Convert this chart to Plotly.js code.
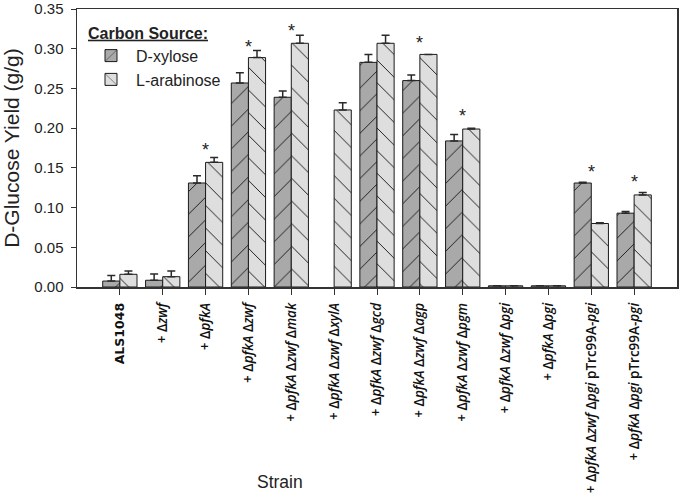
<!DOCTYPE html>
<html>
<head>
<meta charset="utf-8">
<script src="https://cdn.plot.ly/plotly-3.0.1.min.js"></script>
<style>html,body{margin:0;padding:0;background:#fff;}#chart{width:680px;height:501px;}</style>
</head>
<body>
<div id="chart"></div>
<script>
// Category keys and displayed tick labels
var categories = ["ALS1048","zwf","pfkA","pfkA zwf","pfkA zwf mak","pfkA zwf xylA","pfkA zwf gcd","pfkA zwf agp","pfkA zwf pgm","pfkA zwf pgi","pfkA pgi","pfkA zwf pgi pTrc99A-pgi","pfkA pgi pTrc99A-pgi"];
var tickLabels = [
  "<span style=\"font-family:'DejaVu Sans';font-size:12.5px\"><b>ALS1048</b></span>",
  "+ Δ<i>zwf</i>",
  "+ Δ<i>pfkA</i>",
  "+ Δ<i>pfkA</i> Δ<i>zwf</i>",
  "+ Δ<i>pfkA</i> Δ<i>zwf</i> Δ<i>mak</i>",
  "+ Δ<i>pfkA</i> Δ<i>zwf</i> Δ<i>xylA</i>",
  "+ Δ<i>pfkA</i> Δ<i>zwf</i> Δ<i>gcd</i>",
  "+ Δ<i>pfkA</i> Δ<i>zwf</i> Δ<i>agp</i>",
  "+ Δ<i>pfkA</i> Δ<i>zwf</i> Δ<i>pgm</i>",
  "+ Δ<i>pfkA</i> Δ<i>zwf</i> Δ<i>pgi</i>",
  "+ Δ<i>pfkA</i> Δ<i>pgi</i>",
  "+ Δ<i>pfkA</i> Δ<i>zwf</i> Δ<i>pgi</i> pTrc99A-<i>pgi</i>",
  "+ Δ<i>pfkA</i> Δ<i>pgi</i> pTrc99A-<i>pgi</i>"
];
// D-xylose yields and upper error
var xyloseYield = [0.0075, 0.0085, 0.131, 0.257, 0.239, null, 0.283, 0.260, 0.184, 0.0015, 0.0015, 0.131, 0.093];
var xyloseErr   = [0.007, 0.008, 0.009, 0.013, 0.008, 0, 0.010, 0.007, 0.008, 0, 0, 0.001, 0.002];
// L-arabinose yields and upper error
var arabinoseYield = [0.016, 0.013, 0.157, 0.289, 0.307, 0.223, 0.307, 0.293, 0.199, 0.0015, 0.0015, 0.080, 0.116];
var arabinoseErr   = [0.004, 0.007, 0.006, 0.009, 0.010, 0.009, 0.010, 0.0, 0.001, 0, 0, 0.001, 0.003];
// Significance asterisks (y position of the star, null = none)
var starY = [null, null, 0.177, 0.308, 0.328, null, null, 0.313, 0.220, null, null, 0.150, 0.137];
var zeros = categories.map(function(){return 0;});

var traces = [
  {
    type: 'bar', name: 'D-xylose', x: categories, y: xyloseYield,
    marker: {color: '#a9a9a9', line: {color: '#1a1a1a', width: 1},
      pattern: {shape: '/', fgcolor: '#1a1a1a', bgcolor: '#a9a9a9', size: 16, solidity: 0.06, fillmode: 'replace'}},
    error_y: {type: 'data', symmetric: false, array: xyloseErr, arrayminus: zeros, color: '#2a2a2a', thickness: 1.5, width: 4},
    hoverinfo: 'skip'
  },
  {
    type: 'bar', name: 'L-arabinose', x: categories, y: arabinoseYield,
    marker: {color: '#dedede', line: {color: '#1a1a1a', width: 1},
      pattern: {shape: '\\', fgcolor: '#1a1a1a', bgcolor: '#dedede', size: 16, solidity: 0.06, fillmode: 'replace'}},
    error_y: {type: 'data', symmetric: false, array: arabinoseErr, arrayminus: zeros, color: '#2a2a2a', thickness: 1.5, width: 4},
    hoverinfo: 'skip'
  }
];

var annotations = [];
categories.forEach(function(c, i){
  if (starY[i] !== null) {
    annotations.push({x: c, y: starY[i], xref: 'x', yref: 'y', text: '*', showarrow: false,
      font: {family: 'Arial, Liberation Sans, sans-serif', size: 18, color: '#222'}, yanchor: 'middle', yshift: -4});
  }
});
annotations.push({x: 0.338, y: -0.70, xref: 'paper', yref: 'paper', text: 'Strain', showarrow: false,
  font: {family: 'Arial, Liberation Sans, sans-serif', size: 17.5, color: '#222'}, xanchor: 'center', yanchor: 'middle'});

var layout = {
  width: 680, height: 501,
  margin: {l: 77, r: 3, t: 9, b: 214},
  paper_bgcolor: '#ffffff', plot_bgcolor: '#ffffff',
  barmode: 'group', bargap: 0.2, bargroupgap: 0,
  showlegend: true,
  legend: {
    x: 0.015, y: 0.968, xanchor: 'left', yanchor: 'top', bgcolor: 'rgba(0,0,0,0)',
    font: {family: 'Arial, Liberation Sans, sans-serif', size: 16, color: '#222'},
    title: {text: '<b><u>Carbon Source:</u></b>', font: {family: 'Arial, Liberation Sans, sans-serif', size: 16, color: '#222'}},
    itemwidth: 40, tracegroupgap: 0
  },
  xaxis: {
    type: 'category', range: [-1, 13],
    tickvals: categories, ticktext: tickLabels, tickangle: -90,
    tickfont: {family: 'Open Sans, Noto Sans, sans-serif', size: 13.5, color: '#111', weight: 600},
    ticks: 'outside', ticklen: 6, tickcolor: '#333', tickwidth: 1, ticklabelstandoff: 3,
    showline: true, linecolor: '#333', linewidth: 1.5, mirror: true,
    showgrid: false, zeroline: false
  },
  yaxis: {
    range: [0, 0.3502], tickvals: [0, 0.05, 0.1, 0.15, 0.2, 0.25, 0.3, 0.35], tickformat: '.2f',
    tickfont: {family: 'Arial, Liberation Sans, sans-serif', size: 15, color: '#222'},
    ticks: 'outside', ticklen: 5, tickcolor: '#333', ticklabelstandoff: 4, ticklabeloverflow: 'allow',
    showline: true, linecolor: '#333', linewidth: 1.5, mirror: true,
    showgrid: false, zeroline: false,
    title: {text: 'D-Glucose Yield (g/g)', font: {family: 'Arial, Liberation Sans, sans-serif', size: 21, color: '#222'}, standoff: 10}
  },
  annotations: annotations
};

Plotly.newPlot('chart', traces, layout, {staticPlot: true, displayModeBar: false});
</script>
</body>
</html>
